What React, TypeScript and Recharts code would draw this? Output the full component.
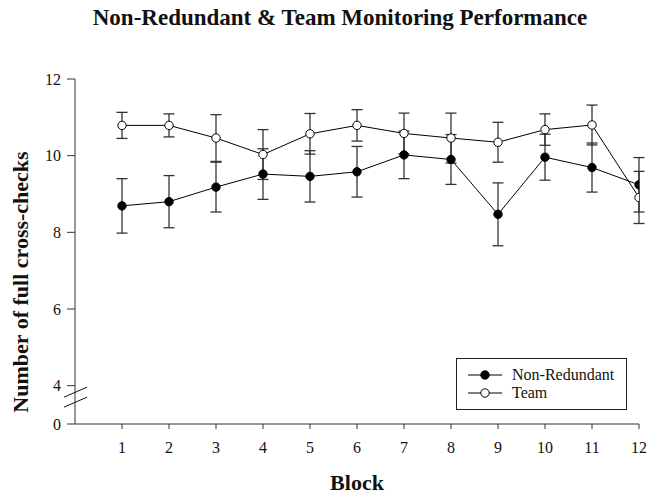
import React from 'react';
import { LineChart, Line, XAxis, YAxis, ErrorBar, ReferenceDot } from 'recharts';

const blocks = [1, 2, 3, 4, 5, 6, 7, 8, 9, 10, 11, 12];
const nonRedundant = [8.69, 8.8, 9.18, 9.52, 9.46, 9.58, 10.02, 9.9, 8.47, 9.96, 9.69, 9.24];
const nonRedundantErr = [0.71, 0.68, 0.65, 0.66, 0.67, 0.66, 0.62, 0.65, 0.82, 0.6, 0.64, 0.71];
const team = [10.79, 10.79, 10.46, 10.03, 10.57, 10.79, 10.58, 10.46, 10.35, 10.68, 10.8, 8.91];
const teamErr = [0.34, 0.3, 0.61, 0.65, 0.53, 0.41, 0.53, 0.65, 0.52, 0.41, 0.52, 0.68];

const yTicks = [3, 4, 6, 8, 10, 12];
const yTickLabels: Record<number, string> = { 3: '0', 4: '4', 6: '6', 8: '8', 10: '10', 12: '12' };
const xTicks = blocks;

const seriesNames = { nr: 'Non-Redundant', team: 'Team' };
const titleText = 'Non-Redundant & Team Monitoring Performance';
const xLabel = 'Block';
const yLabel = 'Number of full cross-checks';
const breakValue = 3.7;

const data = blocks.map((b, i) => ({
  block: b,
  nr: nonRedundant[i],
  nrErr: nonRedundantErr[i],
  team: team[i],
  teamErr: teamErr[i],
}));

const FONT = '"Liberation Serif", "Times New Roman", serif';
const INK = '#111';

const FilledDot = (p: any) => (
  <circle key={`f-${p.index}`} cx={p.cx} cy={p.cy} r={4.2} fill="#000" stroke="#000" strokeWidth={1} />
);
const OpenDot = (p: any) => (
  <circle key={`o-${p.index}`} cx={p.cx} cy={p.cy} r={4.2} fill="#fff" stroke="#000" strokeWidth={1} />
);

const BreakMark = (p: any) => {
  const cx = p.cx;
  const cy = p.cy;
  return (
    <g>
      <line x1={cx - 11} y1={cy} x2={cx + 12} y2={cy - 10} stroke={INK} strokeWidth={1} />
      <line x1={cx - 11} y1={cy + 10} x2={cx + 12} y2={cy} stroke={INK} strokeWidth={1} />
    </g>
  );
};

const LegendIcon = ({ filled }: { filled: boolean }) => (
  <svg width={34} height={12} style={{ display: 'block' }}>
    <line x1={0} y1={6} x2={34} y2={6} stroke="#000" strokeWidth={1} />
    <circle cx={17} cy={6} r={4.2} fill={filled ? '#000' : '#fff'} stroke="#000" strokeWidth={1} />
  </svg>
);

export default function App() {
  return (
    <div style={{ position: 'absolute', left: 0, top: 0, width: 651, height: 495, background: '#fff', fontFamily: FONT }}>
      <LineChart
        width={651}
        height={495}
        data={data}
        margin={{ top: 79, right: 12, bottom: 0, left: 0 }}
      >
        <XAxis
          dataKey="block"
          type="number"
          domain={[0, 12]}
          ticks={xTicks}
          allowDataOverflow
          tickSize={5}
          tickMargin={13}
          height={71}
          stroke="#333"
          tick={{ fill: INK, fontSize: 16, fontFamily: FONT }}
          tickLine={{ stroke: '#333' }}
        />
        <YAxis
          type="number"
          domain={[3, 12]}
          ticks={yTicks}
          allowDataOverflow
          tickSize={8}
          tickMargin={6}
          width={75}
          stroke="#333"
          tickFormatter={(v: number) => yTickLabels[v] ?? String(v)}
          tick={{ fill: INK, fontSize: 16, fontFamily: FONT }}
          tickLine={{ stroke: '#333' }}
        />
        <ReferenceDot x={0} y={breakValue} r={0} ifOverflow="visible" shape={BreakMark} />
        <Line
          dataKey="nr"
          name={seriesNames.nr}
          stroke="#000"
          strokeWidth={1}
          dot={FilledDot}
          activeDot={false}
          isAnimationActive={false}
        >
          <ErrorBar dataKey="nrErr" width={5.5} stroke="#333" strokeWidth={1.3} isAnimationActive={false} />
        </Line>
        <Line
          dataKey="team"
          name={seriesNames.team}
          stroke="#000"
          strokeWidth={1}
          dot={OpenDot}
          activeDot={false}
          isAnimationActive={false}
        >
          <ErrorBar dataKey="teamErr" width={5.5} stroke="#333" strokeWidth={1.3} isAnimationActive={false} />
        </Line>
      </LineChart>

      <svg width={651} height={495} style={{ position: 'absolute', left: 0, top: 0, pointerEvents: 'none' }}>
        <text x={340} y={25} textAnchor="middle" fontFamily={FONT} fontWeight="bold" fontSize={23} fill={INK}>
          {titleText}
        </text>
        <text x={357} y={490} textAnchor="middle" fontFamily={FONT} fontWeight="bold" fontSize={22} fill={INK}>
          {xLabel}
        </text>
        <text
          x={28}
          y={282}
          textAnchor="middle"
          transform="rotate(-90, 28, 282)"
          fontFamily={FONT}
          fontWeight="bold"
          fontSize={22}
          fill={INK}
        >
          {yLabel}
        </text>
      </svg>

      <div
        style={{
          position: 'absolute',
          left: 456,
          top: 358,
          width: 171,
          height: 52,
          boxSizing: 'border-box',
          border: '1px solid #222',
          background: '#fff',
          fontFamily: FONT,
          fontSize: 16,
          color: INK,
          paddingLeft: 11,
          paddingTop: 7,
        }}
      >
        <div style={{ display: 'flex', alignItems: 'center', height: 18 }}>
          <LegendIcon filled={true} />
          <span style={{ marginLeft: 10 }}>{seriesNames.nr}</span>
        </div>
        <div style={{ display: 'flex', alignItems: 'center', height: 18 }}>
          <LegendIcon filled={false} />
          <span style={{ marginLeft: 10 }}>{seriesNames.team}</span>
        </div>
      </div>
    </div>
  );
}
